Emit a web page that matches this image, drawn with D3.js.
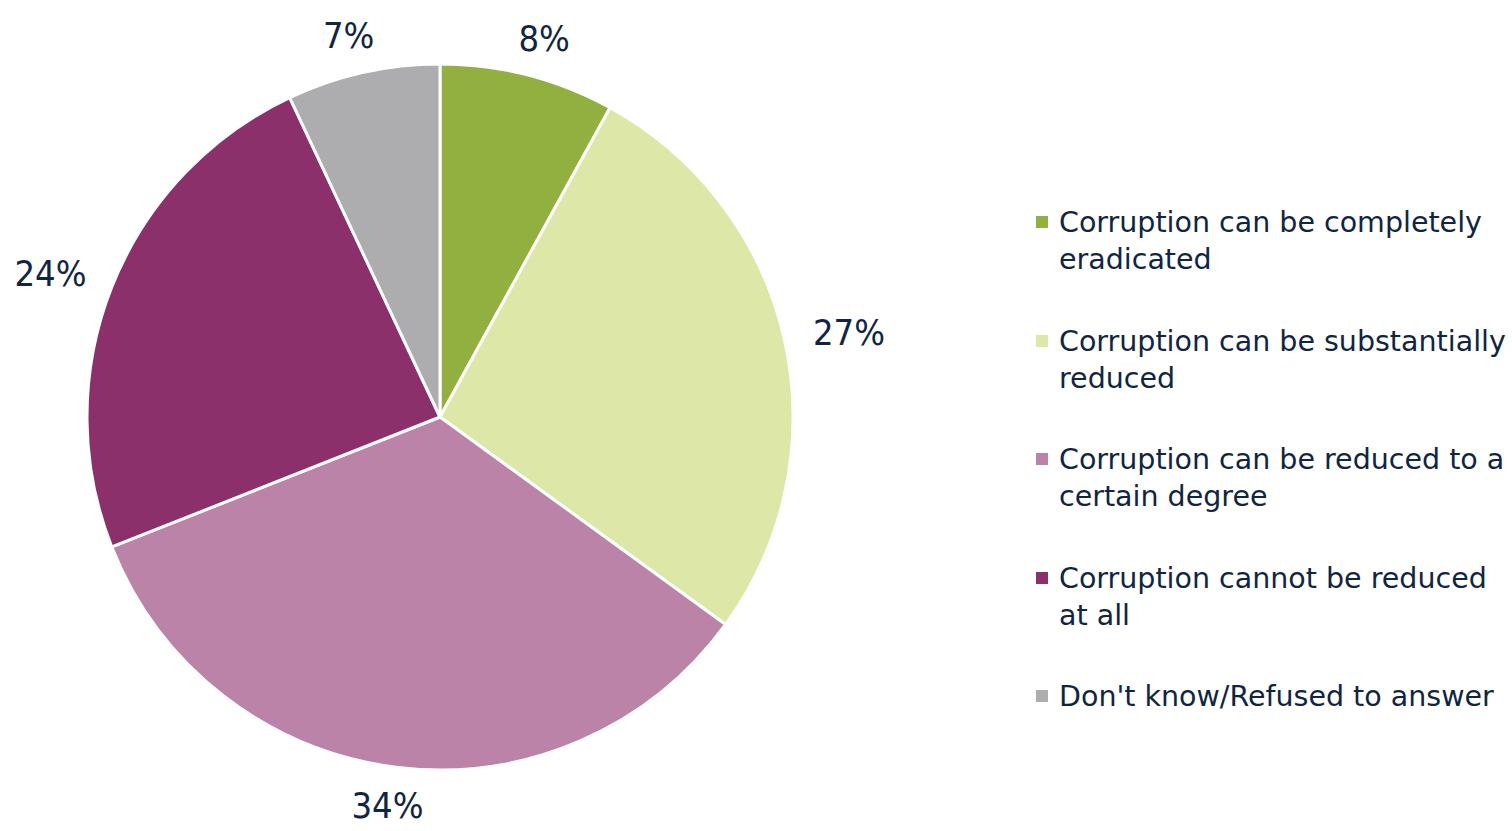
<!DOCTYPE html>
<html><head><meta charset="utf-8">
<script src="https://cdn.jsdelivr.net/npm/d3@7"></script>
<style>
html,body{margin:0;padding:0;background:#fff;}
svg{display:block;}
text{fill:#0f2543;}
</style></head><body>
<svg id="c" width="1512" height="831"></svg>
<script>
const categories = [
  "Corruption can be completely eradicated",
  "Corruption can be substantially reduced",
  "Corruption can be reduced to a certain degree",
  "Corruption cannot be reduced at all",
  "Don't know/Refused to answer"
];
const legendLines = [
  ["Corruption can be completely", "eradicated"],
  ["Corruption can be substantially", "reduced"],
  ["Corruption can be reduced to a", "certain degree"],
  ["Corruption cannot be reduced", "at all"],
  ["Don't know/Refused to answer"]
];
const values = [8, 27, 34, 24, 7];
const colors = ["#92b03f", "#dde8a8", "#bc83a8", "#8c306b", "#adadaf"];

const svg = d3.select("#c");
const cx = 440, cy = 417, r = 353;
const pie = d3.pie().sort(null).value(d => d)(values);
const arc = d3.arc().innerRadius(0).outerRadius(r);
const g = svg.append("g").attr("transform", `translate(${cx},${cy})`);
g.selectAll("path").data(pie).enter().append("path")
  .attr("d", arc).attr("fill", (d,i) => colors[i])
  .attr("stroke", "#fff").attr("stroke-width", 3).attr("stroke-linejoin","round");

g.selectAll("text.lbl").data(pie).enter().append("text")
  .attr("class","lbl")
  .attr("font-family", '"DejaVu Sans Condensed","DejaVu Sans",sans-serif')
  .attr("font-size", 36)
  .attr("text-anchor","middle")
  .attr("dy","0.36em")
  .attr("transform", d => {
    const a = (d.startAngle + d.endAngle)/2;
    const s = Math.sin(a), c = -Math.cos(a);
    const R = r + 28;
    const x = R*s + 38*s, y = R*c + 10*c;
    return `translate(${x},${y})`;
  })
  .text(d => d.value + "%");

const lg = svg.append("g");
const ys = [222, 341, 459, 578, 696];
categories.forEach((c, i) => {
  lg.append("rect").attr("x", 1036).attr("y", ys[i]-6).attr("width", 12).attr("height", 12).attr("fill", colors[i]);
  legendLines[i].forEach((ln, j) => {
    lg.append("text").attr("x", 1059).attr("y", ys[i] + 37*j).attr("dy","0.36em")
      .attr("font-family", '"DejaVu Sans",sans-serif')
      .attr("font-size", 28.5).text(ln);
  });
});
</script>
</body></html>
